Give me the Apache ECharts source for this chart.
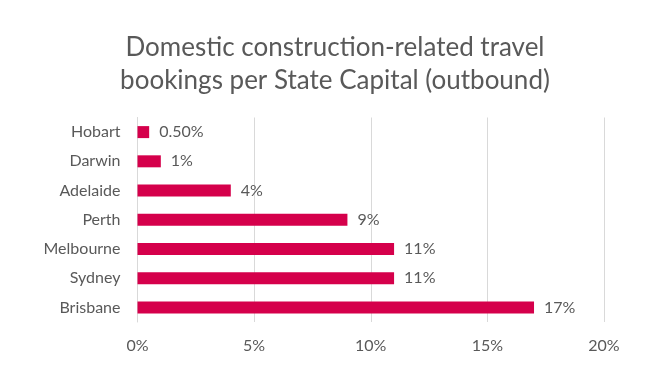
<!DOCTYPE html>
<html><head><meta charset="utf-8">
<script src="https://cdn.jsdelivr.net/npm/echarts@6/dist/echarts.min.js"></script>
<style>html,body{margin:0;padding:0;background:#fff}#c{width:670px;height:378px}</style>
</head><body><div id="c"></div>
<script>
const categories = ["Brisbane", "Sydney", "Melbourne", "Perth", "Adelaide", "Darwin", "Hobart"];
const values = [17, 11, 11, 9, 4, 1, 0.5];
const valueLabels = ["17%", "11%", "11%", "9%", "4%", "1%", "0.50%"];
const xTicks = [0, 5, 10, 15, 20];

const font = "Lato, 'Open Sans', sans-serif";
const chart = echarts.init(document.getElementById('c'));
chart.setOption({
  animation: false,
  title: {
    text: "Domestic construction-related travel\nbookings per State Capital (outbound)",
    left: 'center', top: 26,
    textStyle: { fontFamily: font, fontSize: 26, fontWeight: 'normal', color: '#595959', lineHeight: 33 }
  },
  grid: { left: 137.5, right: 66, top: 117.5, bottom: 56, containLabel: false },
  xAxis: {
    type: 'value', min: xTicks[0], max: xTicks[xTicks.length - 1], interval: 5,
    axisLine: { show: false }, axisTick: { show: false },
    splitLine: { lineStyle: { color: '#D9D9D9', width: 1 } },
    axisLabel: { formatter: v => v + '%', color: '#595959', fontFamily: font, fontSize: 16, margin: 16 }
  },
  yAxis: {
    type: 'category', data: categories,
    axisLine: { show: true, lineStyle: { color: '#D9D9D9' } }, axisTick: { show: false },
    axisLabel: { color: '#595959', fontFamily: font, fontSize: 16, margin: 17 }
  },
  series: [{
    type: 'bar', data: values, barWidth: 12,
    itemStyle: { color: '#D5004B' },
    label: { show: true, position: 'right', distance: 10, color: '#595959', fontFamily: font, fontSize: 16,
      formatter: p => valueLabels[p.dataIndex] }
  }]
});
</script></body></html>
